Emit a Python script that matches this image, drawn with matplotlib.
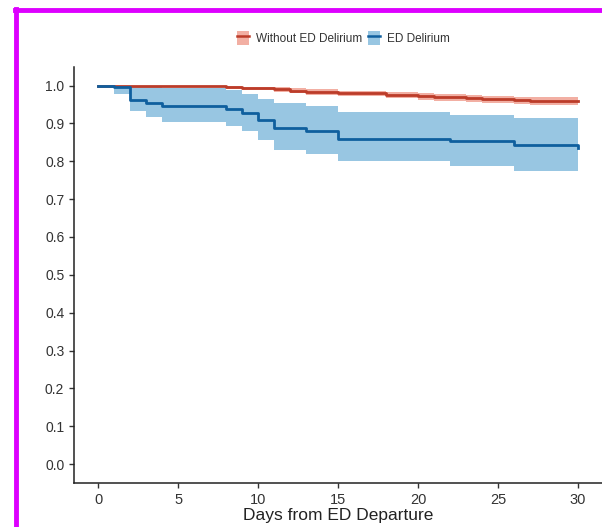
import matplotlib
matplotlib.use("Agg")
import matplotlib.pyplot as plt
from matplotlib.lines import Line2D
from matplotlib.patches import Patch

plt.rcParams['font.family'] = ['Liberation Sans', 'DejaVu Sans']

# Without ED Delirium (red)
red_t = [0, 2, 5, 8, 9, 11, 12, 13, 15, 18, 20, 21, 23, 24, 26, 27, 30]
red_s = [1.0, 0.999, 0.998, 0.996, 0.993, 0.990, 0.987, 0.983, 0.980, 0.975, 0.972, 0.969, 0.966, 0.964, 0.962, 0.959, 0.959]
red_lo = [1.0, 0.997, 0.995, 0.992, 0.988, 0.984, 0.981, 0.976, 0.972, 0.967, 0.963, 0.960, 0.956, 0.953, 0.951, 0.948, 0.948]
red_hi = [1.0, 1.0, 1.0, 0.999, 0.997, 0.995, 0.993, 0.990, 0.987, 0.983, 0.980, 0.978, 0.975, 0.973, 0.971, 0.969, 0.969]

# ED Delirium (blue)
blue_t = [0, 1, 2, 3, 4, 8, 9, 10, 11, 13, 15, 22, 26, 30]
blue_s = [1.0, 0.997, 0.963, 0.954, 0.945, 0.937, 0.928, 0.910, 0.888, 0.879, 0.860, 0.853, 0.842, 0.836]
blue_lo = [1.0, 0.979, 0.932, 0.917, 0.904, 0.893, 0.879, 0.857, 0.831, 0.820, 0.800, 0.787, 0.774, 0.774]
blue_hi = [1.0, 1.0, 0.997, 0.996, 0.994, 0.989, 0.979, 0.965, 0.954, 0.947, 0.930, 0.921, 0.914, 0.914]

x_ticks = [0, 5, 10, 15, 20, 25, 30]
y_ticks = [0.0, 0.1, 0.2, 0.3, 0.4, 0.5, 0.6, 0.7, 0.8, 0.9, 1.0]

red_line = '#BC3C29'
red_fill = '#F2AFA3'
blue_line = '#0F5F9E'
blue_fill = '#98C6E2'

fig = plt.figure(figsize=(6.02, 5.27), dpi=100)
ax = fig.add_axes([0.123, 0.0835, 0.877, 0.79])

ax.fill_between(blue_t, blue_lo, blue_hi, step='post', color=blue_fill, lw=0)
ax.fill_between(red_t, red_lo, red_hi, step='post', color=red_fill, lw=0)
ax.step(red_t, red_s, where='post', color=red_line, lw=2)
ax.step(blue_t, blue_s, where='post', color=blue_line, lw=2)

ax.set_xlim(-1.5, 31.5)
ax.set_ylim(-0.05, 1.05)
ax.set_xticks(x_ticks)
ax.set_yticks(y_ticks)
ax.set_yticklabels([f'{v:.1f}' for v in y_ticks])
ax.tick_params(labelsize=10, colors='#333333', length=3.5, width=1)
ax.tick_params(axis='x', labelsize=10.5)
for s in ['top', 'right']:
    ax.spines[s].set_visible(False)
for s in ['left', 'bottom']:
    ax.spines[s].set_linewidth(1.1)
    ax.spines[s].set_color('#222222')
ax.set_xlabel('Days from ED Departure', fontsize=12.5, color='#222222', labelpad=1)

handles = [
    (Patch(facecolor=red_fill, edgecolor='none'), Line2D([], [], color=red_line, lw=1.8)),
    (Patch(facecolor=blue_fill, edgecolor='none'), Line2D([], [], color=blue_line, lw=1.8)),
]
fig.legend(handles, ['Without ED Delirium', 'ED Delirium'], loc='center',
           bbox_to_anchor=(0.57, 0.928), ncol=2, frameon=False, fontsize=8.5,
           labelcolor='#333333', handlelength=1.0, handleheight=1.5,
           columnspacing=0.5, handletextpad=0.6)

# magenta frame around the screenshot
fig.add_artist(Line2D([0.027, 0.027], [0.0, 0.983], transform=fig.transFigure, color='#DD00FF', lw=3.5))
fig.add_artist(Line2D([0.025, 1.0], [0.981, 0.981], transform=fig.transFigure, color='#DD00FF', lw=3.5))

fig.savefig('out.png', dpi=100)
